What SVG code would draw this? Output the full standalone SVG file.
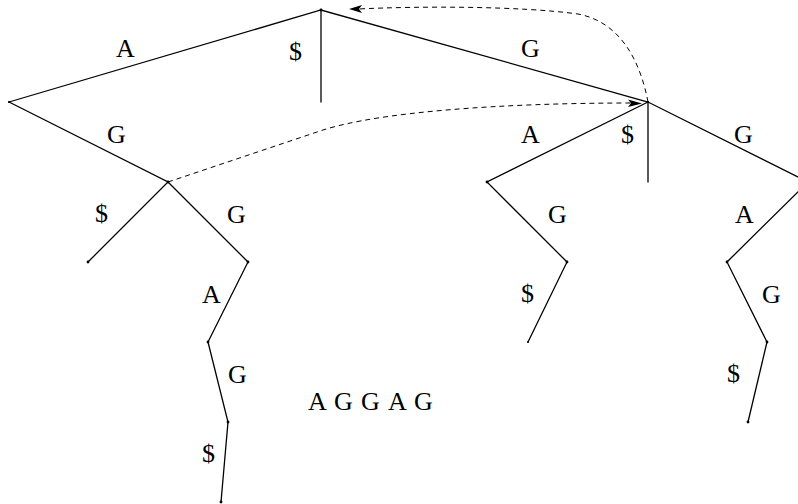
<svg xmlns="http://www.w3.org/2000/svg" width="798" height="504" viewBox="0 0 798 504">
<style>
.e{stroke:#000;stroke-width:1.3;fill:none;stroke-linecap:round}
.d{stroke:#000;stroke-width:1;fill:none;stroke-dasharray:5,4}
.n{fill:#000}
.t{font-family:"Liberation Serif","Times New Roman",serif;font-size:26px;fill:#000}
</style>
<rect width="798" height="504" fill="#fff"/>
<g id="connectors">
<path class="e" d="M9,102 L321,10 L648,102 L808,182"/>
<path class="e" d="M321,10 L321,102"/>
<path class="e" d="M648,102 L648,182"/>
<path class="e" d="M648,102 L487,182 L567,262 L528,342"/>
<path class="e" d="M808,182 L727,262 L767,342 L748,422"/>
<path class="e" d="M9,102 L168,182 L88,262"/>
<path class="e" d="M168,182 L248,262 L208,342 L228,422 L221,502"/>
<path class="d" d="M168,182 L323,130 C380,112 500,103 632,103"/>
<path class="n" d="M642,103.5 L628,99.5 L631,103.3 L628,107 Z"/>
<path class="d" d="M648,102 C640,60 620,22 578,14 C520,6 420,6 358,9"/>
<path class="n" d="M349,9 L362,5 L359,9 L362,13 Z"/>
</g>
<g id="nodes">
<g id="root"><circle class="n" cx="321" cy="10" r="1.4"/></g>
<g id="nL"><circle class="n" cx="9" cy="102" r="1"/></g>
<g id="nR"><circle class="n" cx="648" cy="102" r="1"/></g>
<g id="nLG"><circle class="n" cx="168" cy="182" r="1.4"/></g>
<g id="nLGS"><circle class="n" cx="88" cy="262" r="1.4"/></g>
<g id="nLGG"><circle class="n" cx="248" cy="262" r="1.4"/></g>
<g id="nLGGA"><circle class="n" cx="208" cy="342" r="1.4"/></g>
<g id="nLGGAG"><circle class="n" cx="228" cy="422" r="1.4"/></g>
<g id="nLGGAGS"><circle class="n" cx="221" cy="502" r="1.4"/></g>
<g id="nRA"><circle class="n" cx="487" cy="182" r="1.4"/></g>
<g id="nRAG"><circle class="n" cx="567" cy="262" r="1.4"/></g>
<g id="nRAGS"><circle class="n" cx="528" cy="342" r="1"/></g>
<g id="nRGA"><circle class="n" cx="727" cy="262" r="1.4"/></g>
<g id="nRGAG"><circle class="n" cx="767" cy="342" r="1.4"/></g>
<g id="nRGAGS"><circle class="n" cx="748" cy="422" r="1.4"/></g>
</g>
<g id="labels" class="t">
<text x="116" y="57">A</text>
<text x="289" y="60">$</text>
<text x="521" y="57">G</text>
<text x="107" y="143">G</text>
<text x="521" y="143">A</text>
<text x="621" y="143">$</text>
<text x="734" y="143">G</text>
<text x="95" y="222">$</text>
<text x="227" y="223">G</text>
<text x="548" y="223">G</text>
<text x="735" y="223">A</text>
<text x="202" y="303">A</text>
<text x="521" y="302">$</text>
<text x="762" y="303">G</text>
<text x="228" y="383">G</text>
<text x="727" y="382">$</text>
<text x="202" y="462">$</text>
<text x="308 334 361 388 414" y="410">AGGAG</text>
</g>
</svg>
